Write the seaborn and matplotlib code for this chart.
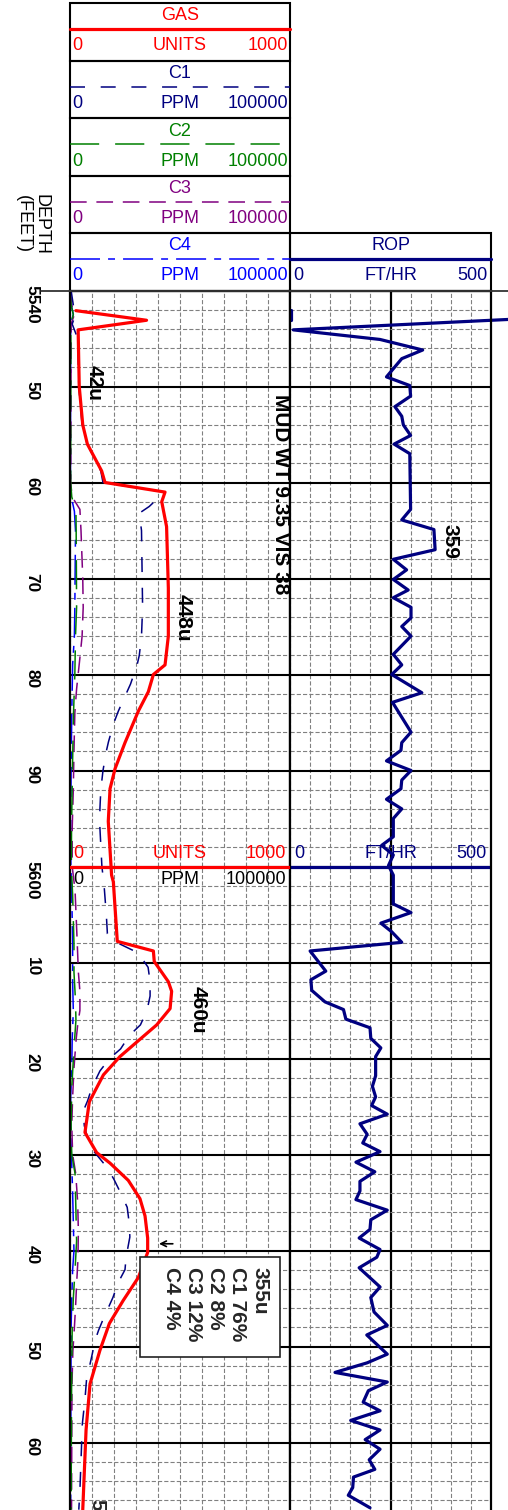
import matplotlib.pyplot as plt
import numpy as np
import pandas as pd
import seaborn as sns
from matplotlib.patches import Rectangle

GAS_DEPTH = [5542.1, 5543.1, 5544.1, 5550.0, 5554.0, 5556.0, 5558.8, 5560.0, 5561.0,
             5562.0, 5564.6, 5571.0, 5576.0, 5579.0, 5580.0, 5581.8, 5583.8, 5587.1,
             5589.8, 5591.9, 5595.3, 5600.9, 5601.6, 5607.8, 5608.8, 5609.9, 5612.0,
             5613.0, 5614.8, 5616.5, 5618.0, 5619.8, 5621.7, 5624.5, 5627.7, 5629.8,
             5630.9, 5632.7, 5634.6, 5636.4, 5638.7, 5640.2, 5642.8, 5645.2, 5647.6,
             5650.4, 5653.9, 5658.7, 5667.0]
GAS_UNITS = [27, 348, 37, 42, 58, 79, 144, 159, 432,
             417, 439, 447, 447, 432, 379, 356, 311, 250,
             205, 182, 174, 189, 197, 215, 379, 383, 447,
             462, 455, 394, 318, 227, 152, 88, 68, 121,
             182, 265, 318, 341, 353, 353, 311, 242, 179,
             136, 91, 73, 58]

C1_DEPTH = [5540, 5541.5, 5542.5, 5543.5, 5545, 5550, 5554, 5556, 5558.8, 5560, 5561,
            5562.5, 5563.2, 5565, 5573, 5576, 5578, 5579, 5581, 5583.8, 5585, 5587,
            5588, 5590, 5592, 5594, 5596, 5600, 5602, 5605, 5607, 5608, 5609, 5610.5,
            5612, 5613.5, 5615, 5616.5, 5617.6, 5619, 5620, 5621.3, 5623, 5624.4,
            5625.5, 5627, 5628.3, 5629.6, 5631.4, 5632.6, 5634, 5635.5, 5637.3,
            5638.6, 5640.7, 5642, 5643.3, 5644.9, 5647.2, 5648.3, 5649.3, 5650.9,
            5653.5, 5655.5, 5658.3, 5660, 5665, 5667]
C1_PPM = [500, 1500, 2500, 1000, 3500, 4000, 5500, 7800, 14000, 15000, 43000,
          36000, 31500, 32500, 33000, 32500, 31500, 30500, 27500, 22000, 20000, 17500,
          16500, 15000, 14000, 13600, 13600, 14500, 15500, 16500, 17000, 22000, 31000, 35500,
          36400, 36400, 35000, 32000, 27000, 23000, 18000, 13600, 10000, 8000,
          6000, 6500, 8000, 10600, 17000, 20000, 23000, 26000, 27000,
          27200, 25500, 25000, 22000, 19500, 15000, 13000, 11500, 10000,
          7500, 6800, 5500, 5300, 4500, 4000]

C2_DEPTH = [5540, 5541.5, 5542.5, 5543.5, 5560, 5561.5, 5563, 5565, 5573, 5576, 5580,
            5584, 5590, 5596, 5600, 5603, 5608, 5611, 5614, 5616, 5619, 5623, 5627,
            5630, 5632, 5636, 5639, 5642, 5645, 5648, 5655, 5667]
C2_PPM = [0, 500, 1500, 400, 300, 800, 2700, 2800, 3000, 2500, 2200,
          1600, 1100, 700, 600, 1200, 1800, 1800, 2500, 2700, 1800, 800, 500,
          800, 2300, 2700, 3000, 2300, 1500, 1000, 700, 500]

C3_DEPTH = [5540, 5541.5, 5542.5, 5543.5, 5560, 5561.5, 5562.8, 5565, 5570, 5573, 5576,
            5578.7, 5581.5, 5584, 5588, 5592, 5596, 5600, 5602.5, 5608, 5611, 5613,
            5615, 5616.5, 5618, 5621, 5624, 5627, 5630, 5632, 5635, 5638, 5641,
            5643.5, 5646, 5648, 5650.5, 5654, 5660, 5667]
C3_PPM = [0, 800, 2000, 500, 300, 1000, 4500, 5000, 5800, 6000, 5500,
          4300, 3000, 2200, 1800, 1500, 1000, 1000, 2300, 3300, 3800, 4500,
          4500, 3500, 2800, 1800, 1200, 800, 1200, 2600, 3500, 3800, 3600,
          3000, 2500, 2000, 1300, 900, 800, 700]

C4_DEPTH = [5540, 5541.5, 5542.5, 5543.5, 5560, 5561.5, 5563, 5565, 5573, 5576, 5579,
            5584, 5590, 5596, 5600, 5603, 5608, 5612, 5615, 5618, 5621, 5624, 5628,
            5631, 5634, 5638, 5640, 5642, 5645, 5648, 5655, 5667]
C4_PPM = [0, 600, 1500, 300, 200, 600, 2000, 2500, 2200, 2000, 1200,
          800, 500, 300, 400, 800, 1200, 1200, 1500, 1000, 800, 300, 300,
          800, 1200, 1600, 1800, 1200, 800, 500, 400, 300]

ROP_START_DEPTH = [5542.0, 5543.1]
ROP_START = [3, 3]
ROP_DEPTH = [5542.9, 5544.1, 5545.1, 5546.2, 5547.1, 5549.0, 5549.9, 5551.0, 5552.1,
             5553.1, 5554.0, 5555.1, 5556.0, 5557.0, 5562.8, 5563.9, 5564.9, 5567.0,
             5568.0, 5569.1, 5570.1, 5571.2, 5572.0, 5573.0, 5574.1, 5575.0, 5576.0,
             5577.9, 5579.0, 5580.0, 5581.9, 5582.9, 5586.0, 5587.1, 5587.9, 5589.0,
             5590.0, 5591.0, 5591.9, 5593.0, 5594.0, 5595.0, 5596.9, 5597.8, 5598.8,
             5599.9, 5600.9, 5603.9, 5604.8, 5605.9, 5606.8, 5607.9, 5608.8, 5610.9,
             5611.8, 5612.9, 5614.1, 5614.9, 5615.9, 5616.8, 5617.9, 5618.9, 5619.8,
             5621.8, 5622.9, 5624.0, 5624.9, 5625.8, 5626.8, 5627.9, 5628.8, 5629.7,
             5630.8, 5631.8, 5632.8, 5633.8, 5634.7, 5635.8, 5636.8, 5637.8, 5638.7,
             5639.9, 5640.7, 5641.8, 5643.8, 5644.9, 5646.4, 5647.8, 5648.8, 5650.8,
             5651.7, 5652.7, 5653.7, 5654.6, 5655.8, 5656.7, 5657.7, 5658.7, 5659.7,
             5660.7, 5661.8, 5662.8, 5663.6, 5664.7, 5665.5, 5666.8]
ROP_FT_HR = [600, 8, 224, 330, 278, 240, 298, 300, 261,
             278, 282, 300, 259, 298, 300, 278, 358, 361,
             257, 290, 257, 294, 257, 301, 301, 278, 301,
             257, 278, 253, 328, 255, 301, 278, 276, 240,
             301, 278, 276, 240, 278, 257, 257, 228, 257,
             245, 257, 257, 301, 226, 253, 278, 50, 89,
             52, 54, 87, 133, 139, 199, 201, 226, 213,
             213, 205, 213, 203, 242, 174, 192, 181, 224,
             164, 211, 174, 174, 164, 242, 201, 199, 172,
             224, 216, 172, 224, 201, 209, 242, 191, 242,
             192, 112, 242, 195, 182, 224, 151, 224, 187,
             224, 197, 211, 158, 156, 145, 199]

DEPTH_TICKS = list(range(5540, 5661, 10))
DEPTH_LABELS = ["5540", "50", "60", "70", "80", "90", "5600",
                "10", "20", "30", "40", "50", "60"]

# ---- layout (pixels of the 508x1510 sheet) --------------------------------
W, H = 508, 1510
TOP_PX = 290.5
PX_PER_FT = 9.6
D_TOP = 5540
D_BOT = D_TOP + (H - TOP_PX) / PX_PER_FT

RED, NAVY, GREEN, PURPLE, BLUE = "#ff0000", "#000080", "#008000", "#800080", "#0000ff"
C_STYLE = {
    "C1": (NAVY, (0, (10.8, 11.3))),
    "C2": (GREEN, (0, (21, 11.5))),
    "C3": (PURPLE, (0, (12, 7))),
    "C4": (BLUE, (0, (21.6, 5.8, 5, 5.8))),
}
GRID_KW = dict(color="#808080", lw=0.8, ls=(0, (3, 1.5)))

sns.set_style("white")
plt.rcParams["font.family"] = ["Liberation Sans", "DejaVu Sans"]
plt.rcParams["lines.scale_dashes"] = False


def main() -> None:
    fig = plt.figure(figsize=(W / 100, H / 100), dpi=100)
    track_h = 1 - TOP_PX / H
    ax = fig.add_axes([70 / W, 0, 220 / W, track_h])
    ax_rop = fig.add_axes([290 / W, 0, 201 / W, track_h], sharey=ax)
    ax_g = ax.twiny()

    # hydrocarbon curves (ppm) under the gas curve
    curves = {"C1": (C1_DEPTH, C1_PPM), "C2": (C2_DEPTH, C2_PPM),
              "C3": (C3_DEPTH, C3_PPM), "C4": (C4_DEPTH, C4_PPM)}
    for name in ["C4", "C3", "C2", "C1"]:
        depth, ppm = curves[name]
        col, ls = C_STYLE[name]
        df = pd.DataFrame({"ppm": ppm, "depth": depth})
        sns.lineplot(data=df, x="ppm", y="depth", ax=ax, sort=False, estimator=None,
                     color=col, lw=1.1, linestyle=ls)

    gas = pd.DataFrame({"units": GAS_UNITS, "depth": GAS_DEPTH})
    sns.lineplot(data=gas, x="units", y="depth", ax=ax_g, sort=False, estimator=None,
                 color=RED, lw=2.3)

    rop = pd.DataFrame({"rop": ROP_FT_HR, "depth": ROP_DEPTH})
    sns.lineplot(data=rop, x="rop", y="depth", ax=ax_rop, sort=False, estimator=None,
                 color=NAVY, lw=2.3, clip_on=False)
    sns.lineplot(x=ROP_START, y=ROP_START_DEPTH, ax=ax_rop, sort=False, estimator=None,
                 color=NAVY, lw=2.3)

    ax.set_xlim(0, 100000)
    ax_g.set_xlim(0, 1000)
    ax_rop.set_xlim(0, 500)
    ax.set_ylim(D_BOT, D_TOP)

    # grids
    ax.set_xticks([])
    ax.set_xticks(np.arange(0, 100001, 10000), minor=True)
    ax_rop.set_xticks([250])
    ax_rop.set_xticks(np.arange(0, 501, 50), minor=True)
    ax.set_yticks(DEPTH_TICKS, labels=DEPTH_LABELS)
    ax.set_yticks(np.arange(5540, D_BOT, 2), minor=True)
    for a in (ax, ax_rop):
        a.set_facecolor("white")
        a.set_axisbelow(True)
        a.grid(which="minor", **GRID_KW)
        a.grid(which="major", axis="y", color="black", lw=1.5)
        a.set_xlabel("")
        a.set_ylabel("")
        for side in ("left", "right", "top"):
            a.spines[side].set_color("black")
            a.spines[side].set_linewidth(1.6)
        a.spines["bottom"].set_visible(False)
        a.tick_params(axis="x", which="both", length=0, labelbottom=False, labeltop=False)
    ax_rop.grid(which="major", axis="x", color="black", lw=1.6)
    ax_rop.tick_params(axis="y", which="both", left=False, labelleft=False)
    ax.tick_params(axis="y", which="major", length=20, width=1.5, color="#333333",
                   pad=2, labelsize=12.5)
    ax.tick_params(axis="y", which="minor", length=10, width=1.1, color="#333333")
    for lab in ax.get_yticklabels():
        lab.set_rotation(-90)
        lab.set_fontweight("bold")
        lab.set_color("black")
    ax_g.tick_params(axis="both", which="both", length=0, labeltop=False,
                     labelbottom=False)
    ax_g.set_xlabel("")
    for sp in ax_g.spines.values():
        sp.set_visible(False)

    # repeated scale at 5600
    ax_g.axhline(5600, color=RED, lw=2.3)
    ax_rop.axhline(5600, color=NAVY, lw=2.3)
    fs = 13
    ax_g.text(13, 5598.6, "0", color=RED, ha="left", va="center", fontsize=fs)
    ax_g.text(500, 5598.6, "UNITS", color=RED, ha="center", va="center", fontsize=fs)
    ax_g.text(982, 5598.6, "1000", color=RED, ha="right", va="center", fontsize=fs)
    ax_g.text(13, 5601.4, "0", color="black", ha="left", va="center", fontsize=fs)
    ax_g.text(500, 5601.4, "PPM", color="black", ha="center", va="center", fontsize=fs)
    ax_g.text(982, 5601.4, "100000", color="black", ha="right", va="center", fontsize=fs)
    ax_rop.text(10, 5598.6, "0", color=NAVY, ha="left", va="center", fontsize=fs)
    ax_rop.text(250, 5598.6, "FT/HR", color=NAVY, ha="center", va="center", fontsize=fs)
    ax_rop.text(490, 5598.6, "500", color=NAVY, ha="right", va="center", fontsize=fs)

    # annotations
    note = dict(rotation=-90, fontweight="bold", fontsize=15, ha="center", va="center",
                color="black", zorder=5)
    ax_g.text(109, 5549.6, "42u", **note)
    ax_g.text(514, 5574.1, "448u", **note)
    ax_g.text(582, 5614.9, "460u", **note)
    ax_g.text(959, 5561.2, "MUD WT 9.35 VIS 38", **note)
    ax_rop.text(398, 5566.1, "359", **note)
    ax_g.add_patch(Rectangle((318, 5640.7), 637, 10.4, facecolor="white",
                             edgecolor="#222222", lw=1.2, zorder=4))
    ax_g.text(905, 5641.7, "355u\nC1 76%\nC2 8%\nC3 12%\nC4 4%", rotation=-90,
              fontweight="bold", fontsize=15, ha="right", va="top",
              multialignment="left", linespacing=1.2, zorder=5)
    ax_g.annotate("", xy=(392, 5639.3), xytext=(480, 5639.3),
                  arrowprops=dict(arrowstyle="->", lw=1.2, color="black"))
    ax_g.text(123, 5665.9, "54u", rotation=-90, fontweight="bold", fontsize=15,
              ha="center", va="top", clip_on=False)

    # header block in sheet pixels
    ov = fig.add_axes([0, 0, 1, 1])
    ov.set_xlim(0, W)
    ov.set_ylim(H, 0)
    ov.axis("off")
    rows = [("GAS", RED, "UNITS", "1000", "-", 2.3),
            ("C1", NAVY, "PPM", "100000", C_STYLE["C1"][1], 1.1),
            ("C2", GREEN, "PPM", "100000", C_STYLE["C2"][1], 1.1),
            ("C3", PURPLE, "PPM", "100000", C_STYLE["C3"][1], 1.1),
            ("C4", BLUE, "PPM", "100000", C_STYLE["C4"][1], 1.1)]
    row_h = (TOP_PX - 3) / 5
    for i, (name, col, unit, top_val, ls, lw) in enumerate(rows):
        y0 = 3 + row_h * i
        ov.add_patch(Rectangle((70, y0), 220, row_h, fill=False, lw=1.5, ec="black"))
        ov.text(180, y0 + 13, name, color=col, ha="center", va="center", fontsize=fs)
        ov.plot([70, 290], [y0 + 26, y0 + 26], color=col, ls=ls, lw=lw)
        ov.text(72, y0 + 43, "0", color=col, ha="left", va="center", fontsize=fs)
        ov.text(180, y0 + 43, unit, color=col, ha="center", va="center", fontsize=fs)
        ov.text(288, y0 + 43, top_val, color=col, ha="right", va="center", fontsize=fs)
    y0 = 3 + row_h * 4
    ov.add_patch(Rectangle((290, y0), 201, row_h, fill=False, lw=1.5, ec="black"))
    ov.text(391, y0 + 13, "ROP", color=NAVY, ha="center", va="center", fontsize=fs)
    ov.plot([290, 491], [y0 + 26, y0 + 26], color=NAVY, lw=2.3)
    ov.text(293, y0 + 43, "0", color=NAVY, ha="left", va="center", fontsize=fs)
    ov.text(391, y0 + 43, "FT/HR", color=NAVY, ha="center", va="center", fontsize=fs)
    ov.text(488, y0 + 43, "500", color=NAVY, ha="right", va="center", fontsize=fs)
    ov.plot([41, W], [TOP_PX, TOP_PX], color="#333333", lw=1.3)
    ov.text(32, 224, "DEPTH\n(FEET)", rotation=-90, ha="center", va="center",
            multialignment="center", fontsize=13, linespacing=1.05, color="black")

    fig.savefig("out.png", dpi=100)
    plt.close(fig)


if __name__ == "__main__":
    main()
